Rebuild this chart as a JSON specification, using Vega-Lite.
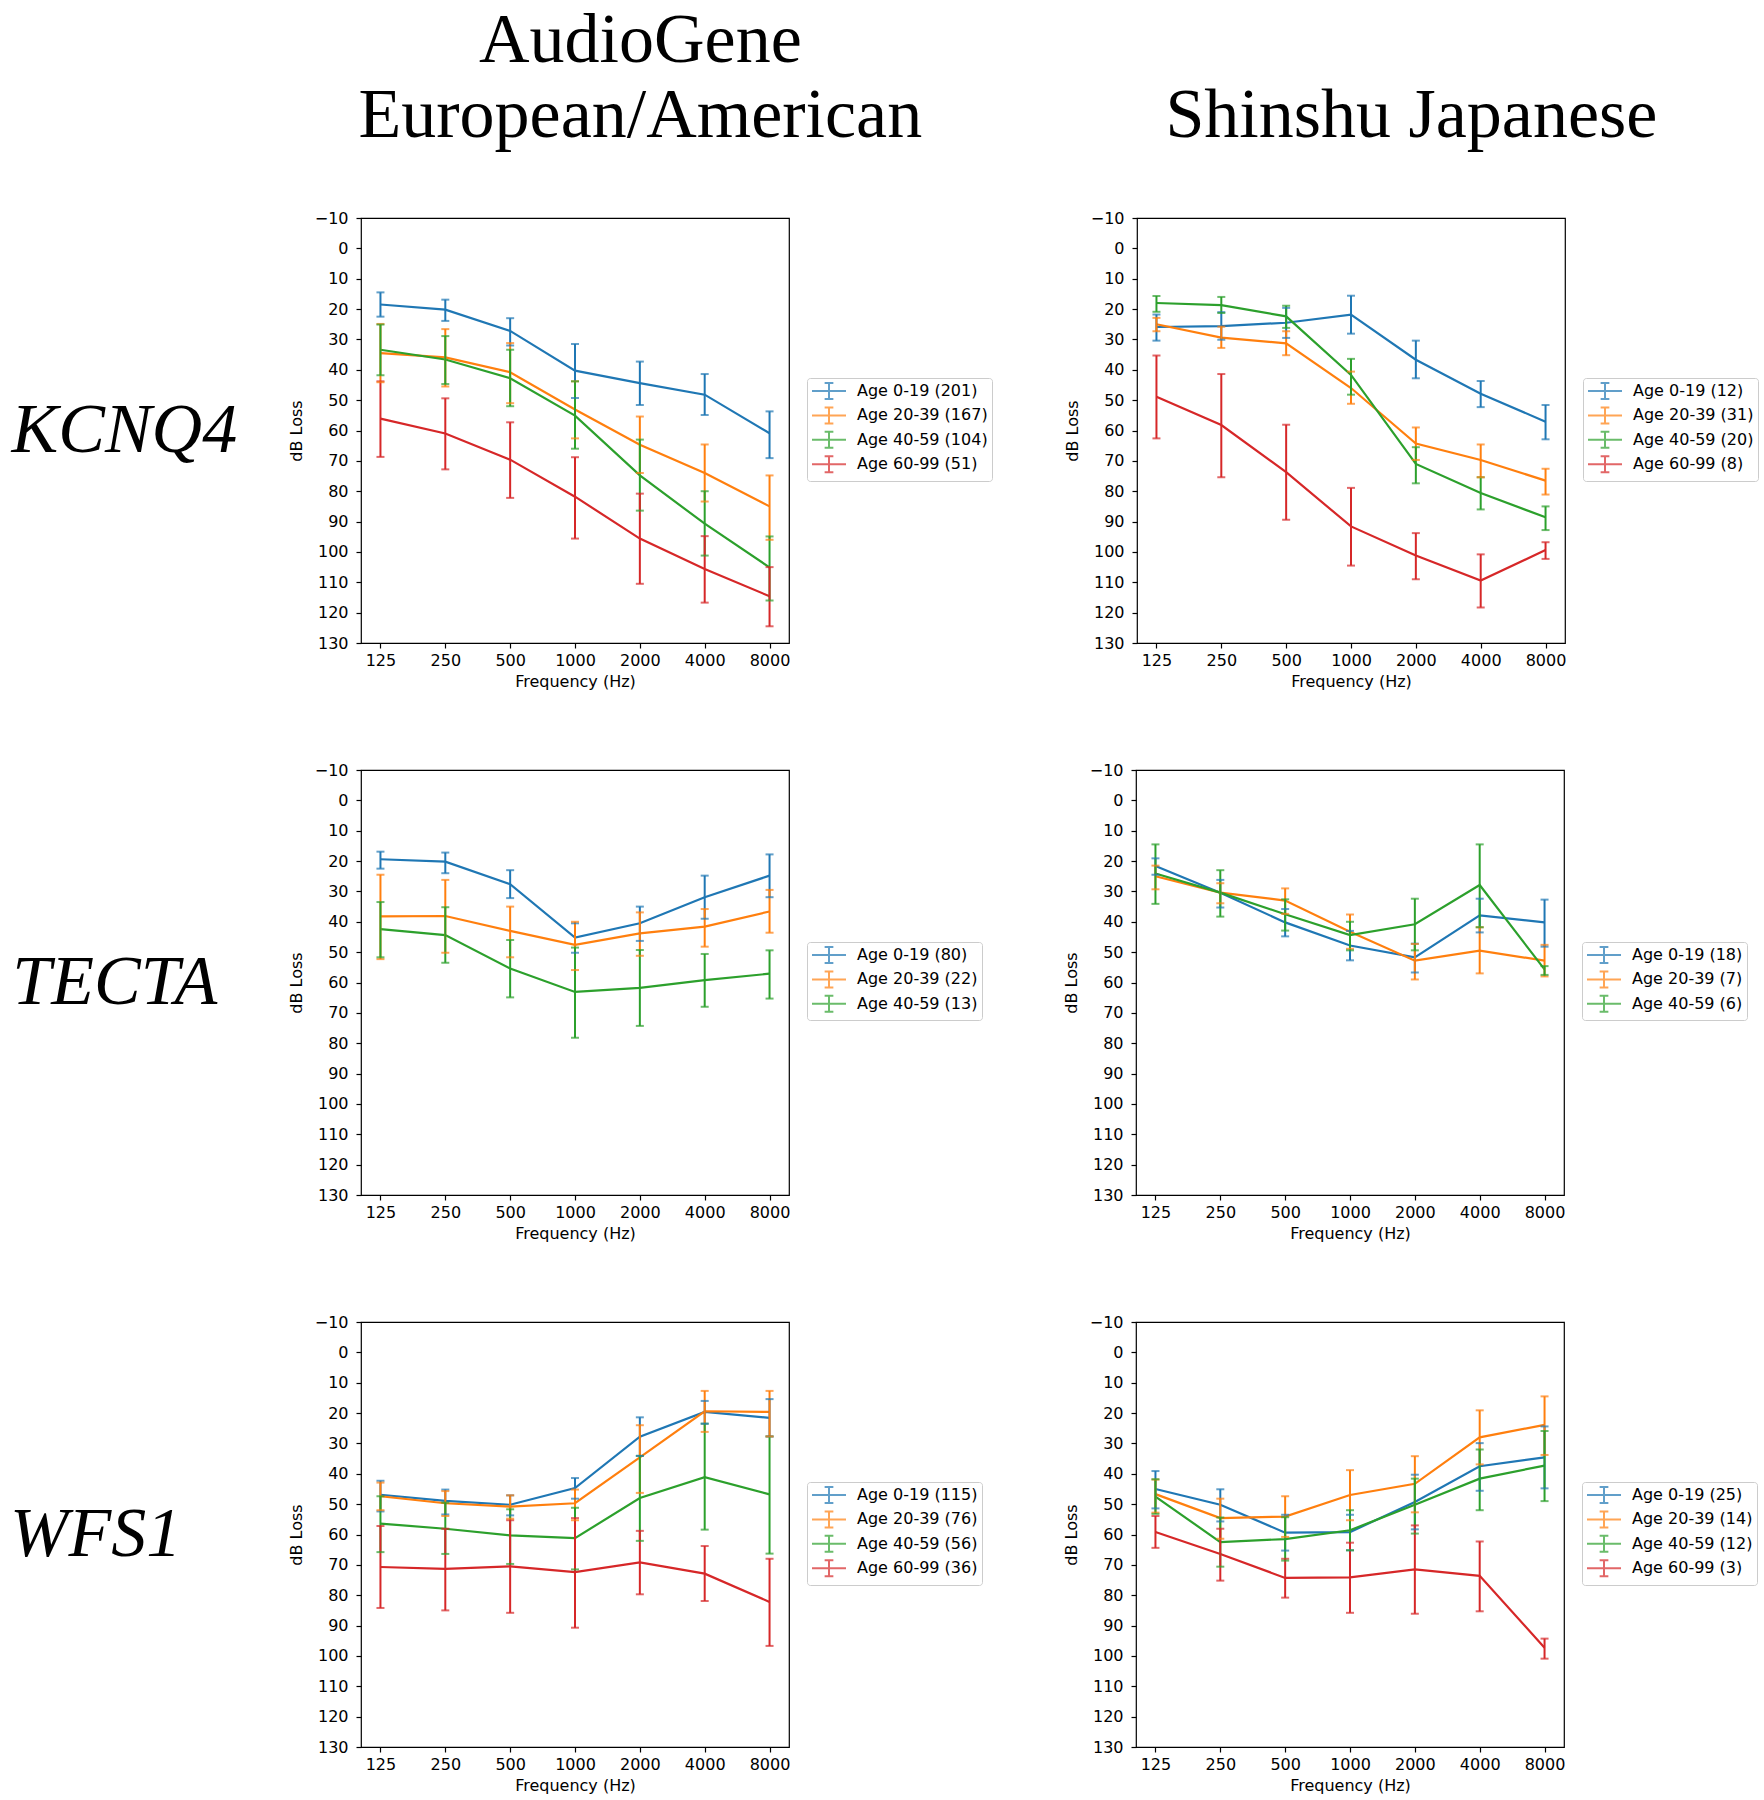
{
  "$schema": "https://vega.github.io/schema/vega-lite/v6.json",
  "background": "white",
  "padding": {"left": 10, "top": 5, "right": 3, "bottom": 3},
  "config": {
    "font": "DejaVu Sans",
    "view": {"stroke": "black", "strokeWidth": 1.2},
    "axis": {"domain": false, "grid": false, "ticks": true, "tickColor": "black", "tickSize": 5, "tickWidth": 1.2,
      "labelFont": "DejaVu Sans", "labelFontSize": 16, "labelColor": "black", "labelPadding": 6,
      "titleFont": "DejaVu Sans", "titleFontSize": 16, "titleFontWeight": "normal", "titleColor": "black",
      "labelOverlap": false, "labelFlush": false, "labelBound": false},
    "axisY": {"titlePadding": 10, "labelPadding": 8, "labelOverlap": false, "tickCount": 20},
    "axisX": {"titlePadding": 5, "labelPadding": 4, "labelAngle": 0},
    "legend": {"title": null, "symbolType": "M-1,0H3.25M1.125,-1V1M0.58,-1H1.67M0.58,1H1.67", "symbolSize": 256,
      "symbolStrokeWidth": 2, "symbolFillColor": "transparent", "labelFont": "DejaVu Sans", "labelFontSize": 16,
      "labelColor": "black", "rowPadding": 0.4, "padding": 4, "strokeColor": "#cccccc", "cornerRadius": 3,
      "fillColor": "white", "labelOffset": 28},
    "title": {"font": "Liberation Serif", "fontSize": 70, "fontWeight": "normal", "color": "black"}
  },
  "datasets": {
    "d": [
      {"g":"KCNQ4","c":"A","s":"Age 0-19 (201)","f":"125","y":18.5,"lo":14.5,"hi":22.5},
      {"g":"KCNQ4","c":"A","s":"Age 0-19 (201)","f":"250","y":20.2,"lo":16.9,"hi":23.9},
      {"g":"KCNQ4","c":"A","s":"Age 0-19 (201)","f":"500","y":27.2,"lo":23.0,"hi":32.0},
      {"g":"KCNQ4","c":"A","s":"Age 0-19 (201)","f":"1000","y":40.3,"lo":31.5,"hi":49.3},
      {"g":"KCNQ4","c":"A","s":"Age 0-19 (201)","f":"2000","y":44.4,"lo":37.3,"hi":51.6},
      {"g":"KCNQ4","c":"A","s":"Age 0-19 (201)","f":"4000","y":48.2,"lo":41.4,"hi":54.9},
      {"g":"KCNQ4","c":"A","s":"Age 0-19 (201)","f":"8000","y":60.9,"lo":53.7,"hi":69.1},
      {"g":"KCNQ4","c":"A","s":"Age 20-39 (167)","f":"125","y":34.5,"lo":24.9,"hi":44.1},
      {"g":"KCNQ4","c":"A","s":"Age 20-39 (167)","f":"250","y":35.9,"lo":26.6,"hi":45.5},
      {"g":"KCNQ4","c":"A","s":"Age 20-39 (167)","f":"500","y":40.8,"lo":31.2,"hi":51.0},
      {"g":"KCNQ4","c":"A","s":"Age 20-39 (167)","f":"1000","y":53.1,"lo":43.8,"hi":62.6},
      {"g":"KCNQ4","c":"A","s":"Age 20-39 (167)","f":"2000","y":64.7,"lo":55.4,"hi":74.0},
      {"g":"KCNQ4","c":"A","s":"Age 20-39 (167)","f":"4000","y":74.0,"lo":64.6,"hi":83.4},
      {"g":"KCNQ4","c":"A","s":"Age 20-39 (167)","f":"8000","y":85.0,"lo":74.8,"hi":96.0},
      {"g":"KCNQ4","c":"A","s":"Age 40-59 (104)","f":"125","y":33.4,"lo":25.1,"hi":41.8},
      {"g":"KCNQ4","c":"A","s":"Age 40-59 (104)","f":"250","y":36.6,"lo":28.9,"hi":44.7},
      {"g":"KCNQ4","c":"A","s":"Age 40-59 (104)","f":"500","y":42.8,"lo":33.4,"hi":52.0},
      {"g":"KCNQ4","c":"A","s":"Age 40-59 (104)","f":"1000","y":55.1,"lo":43.8,"hi":66.0},
      {"g":"KCNQ4","c":"A","s":"Age 40-59 (104)","f":"2000","y":74.8,"lo":63.0,"hi":86.4},
      {"g":"KCNQ4","c":"A","s":"Age 40-59 (104)","f":"4000","y":90.7,"lo":80.0,"hi":101.2},
      {"g":"KCNQ4","c":"A","s":"Age 40-59 (104)","f":"8000","y":105.1,"lo":94.9,"hi":116.0},
      {"g":"KCNQ4","c":"A","s":"Age 60-99 (51)","f":"125","y":56.1,"lo":43.8,"hi":68.7},
      {"g":"KCNQ4","c":"A","s":"Age 60-99 (51)","f":"250","y":61.0,"lo":49.4,"hi":72.8},
      {"g":"KCNQ4","c":"A","s":"Age 60-99 (51)","f":"500","y":69.6,"lo":57.3,"hi":82.2},
      {"g":"KCNQ4","c":"A","s":"Age 60-99 (51)","f":"1000","y":81.8,"lo":68.8,"hi":95.6},
      {"g":"KCNQ4","c":"A","s":"Age 60-99 (51)","f":"2000","y":95.6,"lo":80.8,"hi":110.5},
      {"g":"KCNQ4","c":"A","s":"Age 60-99 (51)","f":"4000","y":105.6,"lo":94.8,"hi":116.7},
      {"g":"KCNQ4","c":"A","s":"Age 60-99 (51)","f":"8000","y":114.6,"lo":105.0,"hi":124.5},

      {"g":"KCNQ4","c":"S","s":"Age 0-19 (12)","f":"125","y":25.9,"lo":21.8,"hi":30.4},
      {"g":"KCNQ4","c":"S","s":"Age 0-19 (12)","f":"250","y":25.6,"lo":21.0,"hi":30.1},
      {"g":"KCNQ4","c":"S","s":"Age 0-19 (12)","f":"500","y":24.5,"lo":19.6,"hi":29.5},
      {"g":"KCNQ4","c":"S","s":"Age 0-19 (12)","f":"1000","y":21.8,"lo":15.6,"hi":28.1},
      {"g":"KCNQ4","c":"S","s":"Age 0-19 (12)","f":"2000","y":36.7,"lo":30.4,"hi":42.8},
      {"g":"KCNQ4","c":"S","s":"Age 0-19 (12)","f":"4000","y":47.9,"lo":43.7,"hi":52.3},
      {"g":"KCNQ4","c":"S","s":"Age 0-19 (12)","f":"8000","y":57.1,"lo":51.6,"hi":62.9},
      {"g":"KCNQ4","c":"S","s":"Age 20-39 (31)","f":"125","y":25.0,"lo":22.9,"hi":27.3},
      {"g":"KCNQ4","c":"S","s":"Age 20-39 (31)","f":"250","y":29.4,"lo":25.8,"hi":32.8},
      {"g":"KCNQ4","c":"S","s":"Age 20-39 (31)","f":"500","y":31.3,"lo":27.3,"hi":35.2},
      {"g":"KCNQ4","c":"S","s":"Age 20-39 (31)","f":"1000","y":46.0,"lo":40.6,"hi":51.2},
      {"g":"KCNQ4","c":"S","s":"Age 20-39 (31)","f":"2000","y":64.3,"lo":59.0,"hi":69.7},
      {"g":"KCNQ4","c":"S","s":"Age 20-39 (31)","f":"4000","y":69.7,"lo":64.6,"hi":75.4},
      {"g":"KCNQ4","c":"S","s":"Age 20-39 (31)","f":"8000","y":76.5,"lo":72.6,"hi":81.1},
      {"g":"KCNQ4","c":"S","s":"Age 40-59 (20)","f":"125","y":18.0,"lo":15.7,"hi":20.9},
      {"g":"KCNQ4","c":"S","s":"Age 40-59 (20)","f":"250","y":18.7,"lo":16.0,"hi":21.3},
      {"g":"KCNQ4","c":"S","s":"Age 40-59 (20)","f":"500","y":22.4,"lo":18.9,"hi":26.2},
      {"g":"KCNQ4","c":"S","s":"Age 40-59 (20)","f":"1000","y":41.7,"lo":36.4,"hi":48.2},
      {"g":"KCNQ4","c":"S","s":"Age 40-59 (20)","f":"2000","y":71.0,"lo":65.5,"hi":77.4},
      {"g":"KCNQ4","c":"S","s":"Age 40-59 (20)","f":"4000","y":80.6,"lo":75.4,"hi":86.0},
      {"g":"KCNQ4","c":"S","s":"Age 40-59 (20)","f":"8000","y":88.6,"lo":85.0,"hi":92.8},
      {"g":"KCNQ4","c":"S","s":"Age 60-99 (8)","f":"125","y":48.9,"lo":35.3,"hi":62.6},
      {"g":"KCNQ4","c":"S","s":"Age 60-99 (8)","f":"250","y":58.2,"lo":41.4,"hi":75.4},
      {"g":"KCNQ4","c":"S","s":"Age 60-99 (8)","f":"500","y":73.7,"lo":58.1,"hi":89.4},
      {"g":"KCNQ4","c":"S","s":"Age 60-99 (8)","f":"1000","y":91.6,"lo":78.9,"hi":104.5},
      {"g":"KCNQ4","c":"S","s":"Age 60-99 (8)","f":"2000","y":101.2,"lo":93.8,"hi":109.0},
      {"g":"KCNQ4","c":"S","s":"Age 60-99 (8)","f":"4000","y":109.4,"lo":100.8,"hi":118.3},
      {"g":"KCNQ4","c":"S","s":"Age 60-99 (8)","f":"8000","y":99.4,"lo":96.8,"hi":102.3},

      {"g":"TECTA","c":"A","s":"Age 0-19 (80)","f":"125","y":19.4,"lo":16.9,"hi":22.5},
      {"g":"TECTA","c":"A","s":"Age 0-19 (80)","f":"250","y":20.2,"lo":17.2,"hi":24.0},
      {"g":"TECTA","c":"A","s":"Age 0-19 (80)","f":"500","y":27.6,"lo":23.0,"hi":32.2},
      {"g":"TECTA","c":"A","s":"Age 0-19 (80)","f":"1000","y":45.2,"lo":40.5,"hi":50.2},
      {"g":"TECTA","c":"A","s":"Age 0-19 (80)","f":"2000","y":40.5,"lo":35.0,"hi":46.3},
      {"g":"TECTA","c":"A","s":"Age 0-19 (80)","f":"4000","y":31.9,"lo":24.8,"hi":39.0},
      {"g":"TECTA","c":"A","s":"Age 0-19 (80)","f":"8000","y":24.8,"lo":17.8,"hi":31.9},
      {"g":"TECTA","c":"A","s":"Age 20-39 (22)","f":"125","y":38.2,"lo":24.5,"hi":52.3},
      {"g":"TECTA","c":"A","s":"Age 20-39 (22)","f":"250","y":38.1,"lo":26.2,"hi":50.2},
      {"g":"TECTA","c":"A","s":"Age 20-39 (22)","f":"500","y":43.0,"lo":35.0,"hi":51.7},
      {"g":"TECTA","c":"A","s":"Age 20-39 (22)","f":"1000","y":47.6,"lo":40.0,"hi":55.9},
      {"g":"TECTA","c":"A","s":"Age 20-39 (22)","f":"2000","y":43.8,"lo":36.9,"hi":51.2},
      {"g":"TECTA","c":"A","s":"Age 20-39 (22)","f":"4000","y":41.6,"lo":35.8,"hi":48.2},
      {"g":"TECTA","c":"A","s":"Age 20-39 (22)","f":"8000","y":36.6,"lo":29.5,"hi":43.6},
      {"g":"TECTA","c":"A","s":"Age 40-59 (13)","f":"125","y":42.4,"lo":33.5,"hi":51.7},
      {"g":"TECTA","c":"A","s":"Age 40-59 (13)","f":"250","y":44.4,"lo":35.2,"hi":53.5},
      {"g":"TECTA","c":"A","s":"Age 40-59 (13)","f":"500","y":55.4,"lo":46.0,"hi":64.9},
      {"g":"TECTA","c":"A","s":"Age 40-59 (13)","f":"1000","y":63.1,"lo":48.5,"hi":78.2},
      {"g":"TECTA","c":"A","s":"Age 40-59 (13)","f":"2000","y":61.8,"lo":49.3,"hi":74.3},
      {"g":"TECTA","c":"A","s":"Age 40-59 (13)","f":"4000","y":59.2,"lo":50.6,"hi":68.0},
      {"g":"TECTA","c":"A","s":"Age 40-59 (13)","f":"8000","y":57.1,"lo":49.4,"hi":65.3},

      {"g":"TECTA","c":"S","s":"Age 0-19 (18)","f":"125","y":21.6,"lo":19.1,"hi":24.5},
      {"g":"TECTA","c":"S","s":"Age 0-19 (18)","f":"250","y":30.4,"lo":26.2,"hi":35.3},
      {"g":"TECTA","c":"S","s":"Age 0-19 (18)","f":"500","y":40.2,"lo":35.8,"hi":44.8},
      {"g":"TECTA","c":"S","s":"Age 0-19 (18)","f":"1000","y":47.8,"lo":43.0,"hi":52.7},
      {"g":"TECTA","c":"S","s":"Age 0-19 (18)","f":"2000","y":51.7,"lo":47.2,"hi":56.7},
      {"g":"TECTA","c":"S","s":"Age 0-19 (18)","f":"4000","y":37.9,"lo":32.4,"hi":43.5},
      {"g":"TECTA","c":"S","s":"Age 0-19 (18)","f":"8000","y":40.2,"lo":32.7,"hi":48.2},
      {"g":"TECTA","c":"S","s":"Age 20-39 (7)","f":"125","y":25.0,"lo":21.5,"hi":29.3},
      {"g":"TECTA","c":"S","s":"Age 20-39 (7)","f":"250","y":30.4,"lo":27.3,"hi":33.9},
      {"g":"TECTA","c":"S","s":"Age 20-39 (7)","f":"500","y":33.0,"lo":29.0,"hi":37.4},
      {"g":"TECTA","c":"S","s":"Age 20-39 (7)","f":"1000","y":43.3,"lo":37.6,"hi":48.9},
      {"g":"TECTA","c":"S","s":"Age 20-39 (7)","f":"2000","y":52.8,"lo":47.3,"hi":59.0},
      {"g":"TECTA","c":"S","s":"Age 20-39 (7)","f":"4000","y":49.5,"lo":41.8,"hi":57.0},
      {"g":"TECTA","c":"S","s":"Age 20-39 (7)","f":"8000","y":52.8,"lo":47.6,"hi":58.0},
      {"g":"TECTA","c":"S","s":"Age 40-59 (6)","f":"125","y":24.1,"lo":14.5,"hi":34.1},
      {"g":"TECTA","c":"S","s":"Age 40-59 (6)","f":"250","y":30.4,"lo":23.0,"hi":38.3},
      {"g":"TECTA","c":"S","s":"Age 40-59 (6)","f":"500","y":37.5,"lo":32.6,"hi":42.9},
      {"g":"TECTA","c":"S","s":"Age 40-59 (6)","f":"1000","y":44.4,"lo":40.0,"hi":49.4},
      {"g":"TECTA","c":"S","s":"Age 40-59 (6)","f":"2000","y":40.8,"lo":32.4,"hi":49.4},
      {"g":"TECTA","c":"S","s":"Age 40-59 (6)","f":"4000","y":27.9,"lo":14.5,"hi":41.8},
      {"g":"TECTA","c":"S","s":"Age 40-59 (6)","f":"8000","y":55.7,"lo":54.6,"hi":57.5},

      {"g":"WFS1","c":"A","s":"Age 0-19 (115)","f":"125","y":46.9,"lo":42.3,"hi":52.4},
      {"g":"WFS1","c":"A","s":"Age 0-19 (115)","f":"250","y":48.9,"lo":45.2,"hi":53.4},
      {"g":"WFS1","c":"A","s":"Age 0-19 (115)","f":"500","y":50.2,"lo":47.1,"hi":53.7},
      {"g":"WFS1","c":"A","s":"Age 0-19 (115)","f":"1000","y":44.7,"lo":41.4,"hi":48.2},
      {"g":"WFS1","c":"A","s":"Age 0-19 (115)","f":"2000","y":27.8,"lo":21.4,"hi":34.1},
      {"g":"WFS1","c":"A","s":"Age 0-19 (115)","f":"4000","y":19.6,"lo":16.0,"hi":23.5},
      {"g":"WFS1","c":"A","s":"Age 0-19 (115)","f":"8000","y":21.6,"lo":15.4,"hi":27.7},
      {"g":"WFS1","c":"A","s":"Age 20-39 (76)","f":"125","y":47.4,"lo":42.9,"hi":52.0},
      {"g":"WFS1","c":"A","s":"Age 20-39 (76)","f":"250","y":49.7,"lo":45.7,"hi":53.9},
      {"g":"WFS1","c":"A","s":"Age 20-39 (76)","f":"500","y":50.8,"lo":47.1,"hi":54.8},
      {"g":"WFS1","c":"A","s":"Age 20-39 (76)","f":"1000","y":49.7,"lo":45.2,"hi":55.3},
      {"g":"WFS1","c":"A","s":"Age 20-39 (76)","f":"2000","y":34.6,"lo":24.0,"hi":46.3},
      {"g":"WFS1","c":"A","s":"Age 20-39 (76)","f":"4000","y":19.4,"lo":12.7,"hi":26.2},
      {"g":"WFS1","c":"A","s":"Age 20-39 (76)","f":"8000","y":19.6,"lo":12.7,"hi":27.7},
      {"g":"WFS1","c":"A","s":"Age 40-59 (56)","f":"125","y":56.4,"lo":47.4,"hi":65.8},
      {"g":"WFS1","c":"A","s":"Age 40-59 (56)","f":"250","y":58.1,"lo":49.5,"hi":66.4},
      {"g":"WFS1","c":"A","s":"Age 40-59 (56)","f":"500","y":60.3,"lo":51.7,"hi":69.7},
      {"g":"WFS1","c":"A","s":"Age 40-59 (56)","f":"1000","y":61.2,"lo":51.2,"hi":71.5},
      {"g":"WFS1","c":"A","s":"Age 40-59 (56)","f":"2000","y":48.0,"lo":34.1,"hi":62.1},
      {"g":"WFS1","c":"A","s":"Age 40-59 (56)","f":"4000","y":41.1,"lo":23.5,"hi":58.4},
      {"g":"WFS1","c":"A","s":"Age 40-59 (56)","f":"8000","y":46.8,"lo":27.7,"hi":66.3},
      {"g":"WFS1","c":"A","s":"Age 60-99 (36)","f":"125","y":70.7,"lo":57.2,"hi":84.2},
      {"g":"WFS1","c":"A","s":"Age 60-99 (36)","f":"250","y":71.3,"lo":58.1,"hi":85.0},
      {"g":"WFS1","c":"A","s":"Age 60-99 (36)","f":"500","y":70.5,"lo":55.3,"hi":85.8},
      {"g":"WFS1","c":"A","s":"Age 60-99 (36)","f":"1000","y":72.4,"lo":54.6,"hi":90.7},
      {"g":"WFS1","c":"A","s":"Age 60-99 (36)","f":"2000","y":69.2,"lo":58.8,"hi":79.7},
      {"g":"WFS1","c":"A","s":"Age 60-99 (36)","f":"4000","y":72.9,"lo":63.8,"hi":81.9},
      {"g":"WFS1","c":"A","s":"Age 60-99 (36)","f":"8000","y":82.2,"lo":68.0,"hi":96.7},

      {"g":"WFS1","c":"S","s":"Age 0-19 (25)","f":"125","y":45.0,"lo":39.1,"hi":51.4},
      {"g":"WFS1","c":"S","s":"Age 0-19 (25)","f":"250","y":50.2,"lo":45.1,"hi":55.7},
      {"g":"WFS1","c":"S","s":"Age 0-19 (25)","f":"500","y":59.4,"lo":53.5,"hi":65.3},
      {"g":"WFS1","c":"S","s":"Age 0-19 (25)","f":"1000","y":59.2,"lo":53.5,"hi":65.2},
      {"g":"WFS1","c":"S","s":"Age 0-19 (25)","f":"2000","y":49.3,"lo":40.3,"hi":58.3},
      {"g":"WFS1","c":"S","s":"Age 0-19 (25)","f":"4000","y":37.5,"lo":29.9,"hi":45.6},
      {"g":"WFS1","c":"S","s":"Age 0-19 (25)","f":"8000","y":34.6,"lo":24.4,"hi":44.8},
      {"g":"WFS1","c":"S","s":"Age 20-39 (14)","f":"125","y":46.7,"lo":41.9,"hi":52.8},
      {"g":"WFS1","c":"S","s":"Age 20-39 (14)","f":"250","y":54.6,"lo":48.2,"hi":61.4},
      {"g":"WFS1","c":"S","s":"Age 20-39 (14)","f":"500","y":54.1,"lo":47.4,"hi":60.8},
      {"g":"WFS1","c":"S","s":"Age 20-39 (14)","f":"1000","y":47.0,"lo":38.8,"hi":55.3},
      {"g":"WFS1","c":"S","s":"Age 20-39 (14)","f":"2000","y":43.3,"lo":34.2,"hi":52.7},
      {"g":"WFS1","c":"S","s":"Age 20-39 (14)","f":"4000","y":28.0,"lo":19.1,"hi":36.9},
      {"g":"WFS1","c":"S","s":"Age 20-39 (14)","f":"8000","y":23.9,"lo":14.5,"hi":33.8},
      {"g":"WFS1","c":"S","s":"Age 40-59 (12)","f":"125","y":47.5,"lo":41.8,"hi":53.2},
      {"g":"WFS1","c":"S","s":"Age 40-59 (12)","f":"250","y":62.5,"lo":54.4,"hi":70.6},
      {"g":"WFS1","c":"S","s":"Age 40-59 (12)","f":"500","y":61.5,"lo":54.3,"hi":68.6},
      {"g":"WFS1","c":"S","s":"Age 40-59 (12)","f":"1000","y":58.6,"lo":52.0,"hi":65.2},
      {"g":"WFS1","c":"S","s":"Age 40-59 (12)","f":"2000","y":50.2,"lo":41.6,"hi":59.7},
      {"g":"WFS1","c":"S","s":"Age 40-59 (12)","f":"4000","y":41.6,"lo":32.0,"hi":52.0},
      {"g":"WFS1","c":"S","s":"Age 40-59 (12)","f":"8000","y":37.3,"lo":25.9,"hi":49.0},
      {"g":"WFS1","c":"S","s":"Age 60-99 (3)","f":"125","y":59.2,"lo":53.9,"hi":64.4},
      {"g":"WFS1","c":"S","s":"Age 60-99 (3)","f":"250","y":66.4,"lo":58.1,"hi":75.2},
      {"g":"WFS1","c":"S","s":"Age 60-99 (3)","f":"500","y":74.3,"lo":68.0,"hi":80.8},
      {"g":"WFS1","c":"S","s":"Age 60-99 (3)","f":"1000","y":74.1,"lo":62.7,"hi":85.8},
      {"g":"WFS1","c":"S","s":"Age 60-99 (3)","f":"2000","y":71.5,"lo":57.0,"hi":86.1},
      {"g":"WFS1","c":"S","s":"Age 60-99 (3)","f":"4000","y":73.6,"lo":62.3,"hi":85.3},
      {"g":"WFS1","c":"S","s":"Age 60-99 (3)","f":"8000","y":97.3,"lo":94.3,"hi":100.9}
    ]
  },
  "spacing": 71,
  "resolve": {"scale": {"color": "independent", "x": "independent", "y": "independent"}, "legend": {"color": "independent"}},
  "vconcat": [
    {
      "title": {"text": "KCNQ4", "orient": "left", "angle": 0, "align": "left", "baseline": "middle", "fontStyle": "italic", "anchor": "middle", "frame": "bounds", "offset": 45.5, "dx": -5, "dy": 83},
      "spacing": 69,
      "resolve": {"scale": {"color": "independent", "x": "independent", "y": "independent"}, "legend": {"color": "independent"}},
      "hconcat": [
        {
          "width": 428, "height": 425,
          "title": {"text": ["AudioGene", "European/American"], "anchor": "middle", "frame": "bounds", "offset": 58, "lineHeight": 75},
          "data": {"name": "d"},
          "transform": [{"filter": "datum.g === 'KCNQ4' && datum.c === 'A'"}],
          "encoding": {
            "x": {"field": "f", "type": "ordinal", "sort": ["125","250","500","1000","2000","4000","8000"], "scale": {"type": "point", "padding": 0.3}, "title": "Frequency (Hz)"},
            "color": {"field": "s", "type": "nominal", "scale": {"domain": ["Age 0-19 (201)","Age 20-39 (167)","Age 40-59 (104)","Age 60-99 (51)"], "range": ["#1f77b4","#ff7f0e","#2ca02c","#d62728"]}, "legend": {"orient": "none", "legendX": 446, "legendY": 160}}
          },
          "layer": [
            {"mark": {"type": "line", "strokeWidth": 2.2}, "encoding": {"y": {"field": "y", "type": "quantitative", "title": "dB Loss", "scale": {"domain": [-10, 130], "reverse": true, "nice": false, "zero": false}, "axis": {"values": [-10,0,10,20,30,40,50,60,70,80,90,100,110,120,130], "tickCount": 20, "labelOverlap": false}}}},
            {"mark": {"type": "rule", "strokeWidth": 2}, "encoding": {"y": {"field": "lo", "type": "quantitative", "title": "dB Loss"}, "y2": {"field": "hi"}}},
            {"mark": {"type": "tick", "thickness": 2, "size": 8}, "encoding": {"y": {"field": "lo", "type": "quantitative", "title": "dB Loss"}}},
            {"mark": {"type": "tick", "thickness": 2, "size": 8}, "encoding": {"y": {"field": "hi", "type": "quantitative", "title": "dB Loss"}}}
          ]
        },
        {
          "width": 428, "height": 425,
          "title": {"text": "Shinshu Japanese", "anchor": "middle", "frame": "bounds", "offset": 58},
          "data": {"name": "d"},
          "transform": [{"filter": "datum.g === 'KCNQ4' && datum.c === 'S'"}],
          "encoding": {
            "x": {"field": "f", "type": "ordinal", "sort": ["125","250","500","1000","2000","4000","8000"], "scale": {"type": "point", "padding": 0.3}, "title": "Frequency (Hz)"},
            "color": {"field": "s", "type": "nominal", "scale": {"domain": ["Age 0-19 (12)","Age 20-39 (31)","Age 40-59 (20)","Age 60-99 (8)"], "range": ["#1f77b4","#ff7f0e","#2ca02c","#d62728"]}, "legend": {"orient": "none", "legendX": 446, "legendY": 160}}
          },
          "layer": [
            {"mark": {"type": "line", "strokeWidth": 2.2}, "encoding": {"y": {"field": "y", "type": "quantitative", "title": "dB Loss", "scale": {"domain": [-10, 130], "reverse": true, "nice": false, "zero": false}, "axis": {"values": [-10,0,10,20,30,40,50,60,70,80,90,100,110,120,130], "tickCount": 20, "labelOverlap": false}}}},
            {"mark": {"type": "rule", "strokeWidth": 2}, "encoding": {"y": {"field": "lo", "type": "quantitative", "title": "dB Loss"}, "y2": {"field": "hi"}}},
            {"mark": {"type": "tick", "thickness": 2, "size": 8}, "encoding": {"y": {"field": "lo", "type": "quantitative", "title": "dB Loss"}}},
            {"mark": {"type": "tick", "thickness": 2, "size": 8}, "encoding": {"y": {"field": "hi", "type": "quantitative", "title": "dB Loss"}}}
          ]
        }
      ]
    },
    {
      "title": {"text": "TECTA", "orient": "left", "angle": 0, "align": "left", "baseline": "middle", "fontStyle": "italic", "anchor": "middle", "frame": "bounds", "offset": 45.5, "dx": -25, "dy": -19},
      "spacing": 78,
      "resolve": {"scale": {"color": "independent", "x": "independent", "y": "independent"}, "legend": {"color": "independent"}},
      "hconcat": [
        {
          "width": 428, "height": 425,
          "data": {"name": "d"},
          "transform": [{"filter": "datum.g === 'TECTA' && datum.c === 'A'"}],
          "encoding": {
            "x": {"field": "f", "type": "ordinal", "sort": ["125","250","500","1000","2000","4000","8000"], "scale": {"type": "point", "padding": 0.3}, "title": "Frequency (Hz)"},
            "color": {"field": "s", "type": "nominal", "scale": {"domain": ["Age 0-19 (80)","Age 20-39 (22)","Age 40-59 (13)"], "range": ["#1f77b4","#ff7f0e","#2ca02c"]}, "legend": {"orient": "none", "legendX": 446, "legendY": 172}}
          },
          "layer": [
            {"mark": {"type": "line", "strokeWidth": 2.2}, "encoding": {"y": {"field": "y", "type": "quantitative", "title": "dB Loss", "scale": {"domain": [-10, 130], "reverse": true, "nice": false, "zero": false}, "axis": {"values": [-10,0,10,20,30,40,50,60,70,80,90,100,110,120,130], "tickCount": 20, "labelOverlap": false}}}},
            {"mark": {"type": "rule", "strokeWidth": 2}, "encoding": {"y": {"field": "lo", "type": "quantitative", "title": "dB Loss"}, "y2": {"field": "hi"}}},
            {"mark": {"type": "tick", "thickness": 2, "size": 8}, "encoding": {"y": {"field": "lo", "type": "quantitative", "title": "dB Loss"}}},
            {"mark": {"type": "tick", "thickness": 2, "size": 8}, "encoding": {"y": {"field": "hi", "type": "quantitative", "title": "dB Loss"}}}
          ]
        },
        {
          "width": 428, "height": 425,
          "data": {"name": "d"},
          "transform": [{"filter": "datum.g === 'TECTA' && datum.c === 'S'"}],
          "encoding": {
            "x": {"field": "f", "type": "ordinal", "sort": ["125","250","500","1000","2000","4000","8000"], "scale": {"type": "point", "padding": 0.3}, "title": "Frequency (Hz)"},
            "color": {"field": "s", "type": "nominal", "scale": {"domain": ["Age 0-19 (18)","Age 20-39 (7)","Age 40-59 (6)"], "range": ["#1f77b4","#ff7f0e","#2ca02c"]}, "legend": {"orient": "none", "legendX": 446, "legendY": 172}}
          },
          "layer": [
            {"mark": {"type": "line", "strokeWidth": 2.2}, "encoding": {"y": {"field": "y", "type": "quantitative", "title": "dB Loss", "scale": {"domain": [-10, 130], "reverse": true, "nice": false, "zero": false}, "axis": {"values": [-10,0,10,20,30,40,50,60,70,80,90,100,110,120,130], "tickCount": 20, "labelOverlap": false}}}},
            {"mark": {"type": "rule", "strokeWidth": 2}, "encoding": {"y": {"field": "lo", "type": "quantitative", "title": "dB Loss"}, "y2": {"field": "hi"}}},
            {"mark": {"type": "tick", "thickness": 2, "size": 8}, "encoding": {"y": {"field": "lo", "type": "quantitative", "title": "dB Loss"}}},
            {"mark": {"type": "tick", "thickness": 2, "size": 8}, "encoding": {"y": {"field": "hi", "type": "quantitative", "title": "dB Loss"}}}
          ]
        }
      ]
    },
    {
      "title": {"text": "WFS1", "orient": "left", "angle": 0, "align": "left", "baseline": "middle", "fontStyle": "italic", "anchor": "middle", "frame": "bounds", "offset": 45.5, "dx": -61, "dy": -19},
      "spacing": 78,
      "resolve": {"scale": {"color": "independent", "x": "independent", "y": "independent"}, "legend": {"color": "independent"}},
      "hconcat": [
        {
          "width": 428, "height": 425,
          "data": {"name": "d"},
          "transform": [{"filter": "datum.g === 'WFS1' && datum.c === 'A'"}],
          "encoding": {
            "x": {"field": "f", "type": "ordinal", "sort": ["125","250","500","1000","2000","4000","8000"], "scale": {"type": "point", "padding": 0.3}, "title": "Frequency (Hz)"},
            "color": {"field": "s", "type": "nominal", "scale": {"domain": ["Age 0-19 (115)","Age 20-39 (76)","Age 40-59 (56)","Age 60-99 (36)"], "range": ["#1f77b4","#ff7f0e","#2ca02c","#d62728"]}, "legend": {"orient": "none", "legendX": 446, "legendY": 160}}
          },
          "layer": [
            {"mark": {"type": "line", "strokeWidth": 2.2}, "encoding": {"y": {"field": "y", "type": "quantitative", "title": "dB Loss", "scale": {"domain": [-10, 130], "reverse": true, "nice": false, "zero": false}, "axis": {"values": [-10,0,10,20,30,40,50,60,70,80,90,100,110,120,130], "tickCount": 20, "labelOverlap": false}}}},
            {"mark": {"type": "rule", "strokeWidth": 2}, "encoding": {"y": {"field": "lo", "type": "quantitative", "title": "dB Loss"}, "y2": {"field": "hi"}}},
            {"mark": {"type": "tick", "thickness": 2, "size": 8}, "encoding": {"y": {"field": "lo", "type": "quantitative", "title": "dB Loss"}}},
            {"mark": {"type": "tick", "thickness": 2, "size": 8}, "encoding": {"y": {"field": "hi", "type": "quantitative", "title": "dB Loss"}}}
          ]
        },
        {
          "width": 428, "height": 425,
          "data": {"name": "d"},
          "transform": [{"filter": "datum.g === 'WFS1' && datum.c === 'S'"}],
          "encoding": {
            "x": {"field": "f", "type": "ordinal", "sort": ["125","250","500","1000","2000","4000","8000"], "scale": {"type": "point", "padding": 0.3}, "title": "Frequency (Hz)"},
            "color": {"field": "s", "type": "nominal", "scale": {"domain": ["Age 0-19 (25)","Age 20-39 (14)","Age 40-59 (12)","Age 60-99 (3)"], "range": ["#1f77b4","#ff7f0e","#2ca02c","#d62728"]}, "legend": {"orient": "none", "legendX": 446, "legendY": 160}}
          },
          "layer": [
            {"mark": {"type": "line", "strokeWidth": 2.2}, "encoding": {"y": {"field": "y", "type": "quantitative", "title": "dB Loss", "scale": {"domain": [-10, 130], "reverse": true, "nice": false, "zero": false}, "axis": {"values": [-10,0,10,20,30,40,50,60,70,80,90,100,110,120,130], "tickCount": 20, "labelOverlap": false}}}},
            {"mark": {"type": "rule", "strokeWidth": 2}, "encoding": {"y": {"field": "lo", "type": "quantitative", "title": "dB Loss"}, "y2": {"field": "hi"}}},
            {"mark": {"type": "tick", "thickness": 2, "size": 8}, "encoding": {"y": {"field": "lo", "type": "quantitative", "title": "dB Loss"}}},
            {"mark": {"type": "tick", "thickness": 2, "size": 8}, "encoding": {"y": {"field": "hi", "type": "quantitative", "title": "dB Loss"}}}
          ]
        }
      ]
    }
  ]
}
